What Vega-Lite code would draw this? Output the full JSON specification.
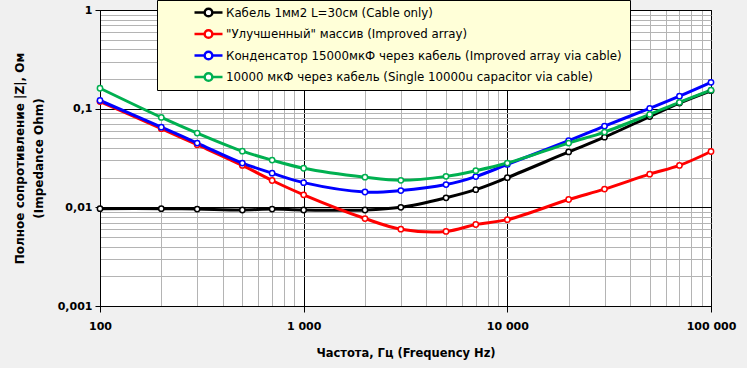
{
  "$schema": "https://vega.github.io/schema/vega-lite/v6.json",
  "width": 611,
  "height": 296,
  "autosize": {"type": "none"},
  "padding": {"left": 100, "top": 10, "right": 36, "bottom": 62},
  "background": "#f0f0f0",
  "config": {
    "view": {"fill": "white", "stroke": "black", "strokeWidth": 1},
    "axis": {
      "labelFont": "DejaVu Sans",
      "labelFontWeight": "bold",
      "labelFontSize": 11,
      "labelColor": "black",
      "titleFont": "DejaVu Sans",
      "titleFontWeight": "bold",
      "titleFontSize": 11.5,
      "titleColor": "black",
      "domainColor": "black",
      "domainWidth": 1,
      "tickSize": 6,
      "gridWidth": 1
    }
  },
  "data": {
    "values": [
      {"f": 100, "z": 0.0097, "s": "Кабель 1мм2 L=30см  (Cable only)"},
      {"f": 200, "z": 0.0097, "s": "Кабель 1мм2 L=30см  (Cable only)"},
      {"f": 300, "z": 0.0096, "s": "Кабель 1мм2 L=30см  (Cable only)"},
      {"f": 500, "z": 0.0094, "s": "Кабель 1мм2 L=30см  (Cable only)"},
      {"f": 700, "z": 0.0096, "s": "Кабель 1мм2 L=30см  (Cable only)"},
      {"f": 1000, "z": 0.0094, "s": "Кабель 1мм2 L=30см  (Cable only)"},
      {"f": 2000, "z": 0.0094, "s": "Кабель 1мм2 L=30см  (Cable only)"},
      {"f": 3000, "z": 0.0100, "s": "Кабель 1мм2 L=30см  (Cable only)"},
      {"f": 5000, "z": 0.0125, "s": "Кабель 1мм2 L=30см  (Cable only)"},
      {"f": 7000, "z": 0.0151, "s": "Кабель 1мм2 L=30см  (Cable only)"},
      {"f": 10000, "z": 0.0200, "s": "Кабель 1мм2 L=30см  (Cable only)"},
      {"f": 20000, "z": 0.0364, "s": "Кабель 1мм2 L=30см  (Cable only)"},
      {"f": 30000, "z": 0.0514, "s": "Кабель 1мм2 L=30см  (Cable only)"},
      {"f": 50000, "z": 0.0832, "s": "Кабель 1мм2 L=30см  (Cable only)"},
      {"f": 70000, "z": 0.114, "s": "Кабель 1мм2 L=30см  (Cable only)"},
      {"f": 100000, "z": 0.152, "s": "Кабель 1мм2 L=30см  (Cable only)"},

      {"f": 100, "z": 0.118, "s": "\"Улучшенный\" массив (Improved array)"},
      {"f": 200, "z": 0.0627, "s": "\"Улучшенный\" массив (Improved array)"},
      {"f": 300, "z": 0.0431, "s": "\"Улучшенный\" массив (Improved array)"},
      {"f": 500, "z": 0.0266, "s": "\"Улучшенный\" массив (Improved array)"},
      {"f": 700, "z": 0.0187, "s": "\"Улучшенный\" массив (Improved array)"},
      {"f": 1000, "z": 0.0134, "s": "\"Улучшенный\" массив (Improved array)"},
      {"f": 2000, "z": 0.0077, "s": "\"Улучшенный\" массив (Improved array)"},
      {"f": 3000, "z": 0.0060, "s": "\"Улучшенный\" массив (Improved array)"},
      {"f": 5000, "z": 0.0057, "s": "\"Улучшенный\" массив (Improved array)"},
      {"f": 7000, "z": 0.0067, "s": "\"Улучшенный\" массив (Improved array)"},
      {"f": 10000, "z": 0.0075, "s": "\"Улучшенный\" массив (Improved array)"},
      {"f": 20000, "z": 0.0120, "s": "\"Улучшенный\" массив (Improved array)"},
      {"f": 30000, "z": 0.0153, "s": "\"Улучшенный\" массив (Improved array)"},
      {"f": 50000, "z": 0.0217, "s": "\"Улучшенный\" массив (Improved array)"},
      {"f": 70000, "z": 0.0266, "s": "\"Улучшенный\" массив (Improved array)"},
      {"f": 100000, "z": 0.0368, "s": "\"Улучшенный\" массив (Improved array)"},

      {"f": 100, "z": 0.121, "s": "Конденсатор 15000мкФ  через кабель (Improved array via cable)"},
      {"f": 200, "z": 0.065, "s": "Конденсатор 15000мкФ  через кабель (Improved array via cable)"},
      {"f": 300, "z": 0.0448, "s": "Конденсатор 15000мкФ  через кабель (Improved array via cable)"},
      {"f": 500, "z": 0.0281, "s": "Конденсатор 15000мкФ  через кабель (Improved array via cable)"},
      {"f": 700, "z": 0.0222, "s": "Конденсатор 15000мкФ  через кабель (Improved array via cable)"},
      {"f": 1000, "z": 0.0178, "s": "Конденсатор 15000мкФ  через кабель (Improved array via cable)"},
      {"f": 2000, "z": 0.0143, "s": "Конденсатор 15000мкФ  через кабель (Improved array via cable)"},
      {"f": 3000, "z": 0.0148, "s": "Конденсатор 15000мкФ  через кабель (Improved array via cable)"},
      {"f": 5000, "z": 0.0170, "s": "Конденсатор 15000мкФ  через кабель (Improved array via cable)"},
      {"f": 7000, "z": 0.0205, "s": "Конденсатор 15000мкФ  через кабель (Improved array via cable)"},
      {"f": 10000, "z": 0.0272, "s": "Конденсатор 15000мкФ  через кабель (Improved array via cable)"},
      {"f": 20000, "z": 0.0474, "s": "Конденсатор 15000мкФ  через кабель (Improved array via cable)"},
      {"f": 30000, "z": 0.0666, "s": "Конденсатор 15000мкФ  через кабель (Improved array via cable)"},
      {"f": 50000, "z": 0.1007, "s": "Конденсатор 15000мкФ  через кабель (Improved array via cable)"},
      {"f": 70000, "z": 0.134, "s": "Конденсатор 15000мкФ  через кабель (Improved array via cable)"},
      {"f": 100000, "z": 0.185, "s": "Конденсатор 15000мкФ  через кабель (Improved array via cable)"},

      {"f": 100, "z": 0.161, "s": "10000  мкФ через кабель (Single 10000u capacitor via cable)"},
      {"f": 200, "z": 0.0816, "s": "10000  мкФ через кабель (Single 10000u capacitor via cable)"},
      {"f": 300, "z": 0.0566, "s": "10000  мкФ через кабель (Single 10000u capacitor via cable)"},
      {"f": 500, "z": 0.0371, "s": "10000  мкФ через кабель (Single 10000u capacitor via cable)"},
      {"f": 700, "z": 0.0301, "s": "10000  мкФ через кабель (Single 10000u capacitor via cable)"},
      {"f": 1000, "z": 0.0249, "s": "10000  мкФ через кабель (Single 10000u capacitor via cable)"},
      {"f": 2000, "z": 0.0202, "s": "10000  мкФ через кабель (Single 10000u capacitor via cable)"},
      {"f": 3000, "z": 0.0188, "s": "10000  мкФ через кабель (Single 10000u capacitor via cable)"},
      {"f": 5000, "z": 0.0206, "s": "10000  мкФ через кабель (Single 10000u capacitor via cable)"},
      {"f": 7000, "z": 0.0235, "s": "10000  мкФ через кабель (Single 10000u capacitor via cable)"},
      {"f": 10000, "z": 0.0281, "s": "10000  мкФ через кабель (Single 10000u capacitor via cable)"},
      {"f": 20000, "z": 0.0448, "s": "10000  мкФ через кабель (Single 10000u capacitor via cable)"},
      {"f": 30000, "z": 0.0579, "s": "10000  мкФ через кабель (Single 10000u capacitor via cable)"},
      {"f": 50000, "z": 0.0875, "s": "10000  мкФ через кабель (Single 10000u capacitor via cable)"},
      {"f": 70000, "z": 0.116, "s": "10000  мкФ через кабель (Single 10000u capacitor via cable)"},
      {"f": 100000, "z": 0.154, "s": "10000  мкФ через кабель (Single 10000u capacitor via cable)"}
    ]
  },
  "encoding": {
    "x": {
      "field": "f",
      "type": "quantitative",
      "scale": {"type": "log", "domain": [100, 100000], "nice": false},
      "axis": {
        "title": "Частота, Гц (Frequency Hz)",
        "values": [100, 200, 300, 400, 500, 600, 700, 800, 900, 1000, 2000, 3000, 4000, 5000, 6000, 7000, 8000, 9000, 10000, 20000, 30000, 40000, 50000, 60000, 70000, 80000, 90000, 100000],
        "labelExpr": "datum.value == 100 ? '100' : datum.value == 1000 ? '1 000' : datum.value == 10000 ? '10 000' : datum.value == 100000 ? '100 000' : ''",
        "gridColor": {"condition": {"test": "indexof([100, 1000, 10000, 100000], datum.value) >= 0", "value": "#000000"}, "value": "#b4b4b4"},
        "tickColor": {"condition": {"test": "indexof([100, 1000, 10000, 100000], datum.value) >= 0", "value": "#000000"}, "value": "transparent"},
        "labelPadding": 8,
        "titlePadding": 16,
        "labelFlush": false,
        "labelOverlap": false
      }
    },
    "y": {
      "field": "z",
      "type": "quantitative",
      "scale": {"type": "log", "domain": [0.001, 1], "nice": false},
      "axis": {
        "title": ["Полное сопротивление |Z|, Ом", "(Impedance Ohm)"],
        "titleLineHeight": 19,
        "titleFontSize": 12,
        "values": [0.001, 0.002, 0.003, 0.004, 0.005, 0.006, 0.007, 0.008, 0.009, 0.01, 0.02, 0.03, 0.04, 0.05, 0.06, 0.07, 0.08, 0.09, 0.1, 0.2, 0.3, 0.4, 0.5, 0.6, 0.7, 0.8, 0.9, 1],
        "labelExpr": "datum.value == 1 ? '1' : datum.value == 0.1 ? '0,1' : datum.value == 0.01 ? '0,01' : datum.value == 0.001 ? '0,001' : ''",
        "gridColor": {"condition": {"test": "indexof([0.001, 0.01, 0.1, 1], datum.value) >= 0", "value": "#000000"}, "value": "#b4b4b4"},
        "tickColor": {"condition": {"test": "indexof([0.001, 0.01, 0.1, 1], datum.value) >= 0", "value": "#000000"}, "value": "transparent"},
        "tickSize": 5,
        "labelPadding": 3,
        "titlePadding": 12,
        "labelFlush": false,
        "labelOverlap": false
      }
    },
    "color": {
      "field": "s",
      "type": "nominal",
      "sort": null,
      "scale": {
        "domain": [
          "Кабель 1мм2 L=30см  (Cable only)",
          "\"Улучшенный\" массив (Improved array)",
          "Конденсатор 15000мкФ  через кабель (Improved array via cable)",
          "10000  мкФ через кабель (Single 10000u capacitor via cable)"
        ],
        "range": ["#000000", "#ff0000", "#0000ff", "#00b050"]
      },
      "legend": {
        "title": null,
        "orient": "none",
        "legendX": 57,
        "legendY": -10,
        "fillColor": "#ffffd8",
        "strokeColor": "#000000",
        "padding": 4,
        "symbolType": "M-2,0L-0.55,0M0.55,0L2,0M0.55,0A0.55,0.55,0,1,1,-0.55,0A0.55,0.55,0,1,1,0.55,0",
        "symbolSize": 196,
        "symbolStrokeWidth": 2.5,
        "symbolFillColor": "white",
        "symbolOffset": 39,
        "labelOffset": 9,
        "labelFont": "DejaVu Sans",
        "labelFontSize": 11.8,
        "labelColor": "black",
        "labelLimit": 600,
        "rowPadding": 2.5,
        "encode": {"symbols": {"update": {"fill": {"value": "white"}, "strokeWidth": {"value": 2.5}}}}
      }
    }
  },
  "layer": [
    {"mark": {"type": "line", "interpolate": "catmull-rom", "strokeWidth": 3}},
    {"mark": {"type": "point", "filled": false, "fill": "white", "fillOpacity": 1, "opacity": 1, "size": 28, "strokeWidth": 1.5}}
  ]
}
